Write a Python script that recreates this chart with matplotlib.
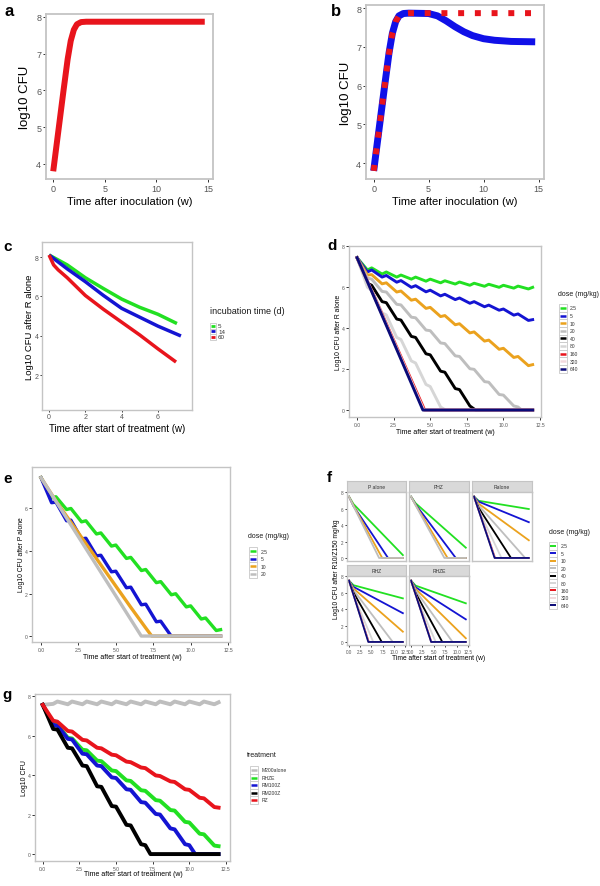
import matplotlib
matplotlib.use('Agg')
import matplotlib.pyplot as plt
from matplotlib.lines import Line2D
from matplotlib.patches import Rectangle
from matplotlib.ticker import FormatStrFormatter

plt.rcParams['font.family'] = ['Liberation Sans', 'DejaVu Sans']

# ---------------- data ----------------
# a / b : growth after inoculation
A_T = [0, 0.5, 1.0, 1.4, 1.7, 2.0, 2.3, 2.7, 3.2, 14.7]
A_V = [3.8, 4.9, 6.0, 6.85, 7.35, 7.65, 7.8, 7.86, 7.87, 7.87]
B_T = [0, 0.5, 1.0, 1.4, 1.7, 2.0, 2.3, 2.7, 3.2, 5.0, 5.8, 6.6, 7.4, 8.2, 9.0, 10.0, 11.0, 12.5, 14.7]
B_V = [3.8, 4.9, 6.0, 6.85, 7.35, 7.65, 7.8, 7.86, 7.87, 7.86, 7.8, 7.67, 7.52, 7.39, 7.29, 7.21, 7.17, 7.14, 7.13]

# c : R alone by incubation time
C_LABELS = ['5', '14', '60']
C_T5 = [0, 1, 2, 3, 4, 5, 6, 7.05]
C_V5 = [8.1, 7.6, 6.95, 6.4, 5.87, 5.45, 5.1, 4.63]
C_T14 = [0, 0.5, 1, 2, 3, 4, 5, 6, 7.27]
C_V14 = [8.1, 7.75, 7.4, 6.75, 6.05, 5.4, 4.95, 4.5, 4.0]
C_T60 = [0, 0.25, 0.5, 1, 2, 3, 4, 5, 6, 7.0]
C_V60 = [8.1, 7.6, 7.35, 6.95, 6.05, 5.35, 4.7, 4.05, 3.35, 2.68]

# weekly grid: start of week and end of the 5 dosing days
T_WK = [0, 0.71, 1, 1.71, 2, 2.71, 3, 3.71, 4, 4.71, 5, 5.71, 6, 6.71, 7, 7.71,
        8, 8.71, 9, 9.71, 10, 10.71, 11, 11.71, 12]

# d : R alone by dose
DOSES = ['2.5', '5', '10', '20', '40', '80', '160', '320', '640']
D_25 = [7.45, 6.85, 6.95, 6.65, 6.75, 6.5, 6.6, 6.4, 6.5, 6.3, 6.4, 6.22, 6.32,
        6.16, 6.26, 6.1, 6.2, 6.05, 6.15, 6.0, 6.1, 5.96, 6.06, 5.92, 6.0]
D_5 = [7.45, 6.75, 6.85, 6.5, 6.58, 6.25, 6.33, 6.0, 6.08, 5.78, 5.86, 5.58, 5.66,
       5.4, 5.48, 5.22, 5.3, 5.05, 5.13, 4.88, 4.94, 4.64, 4.7, 4.38, 4.42]
D_10 = [7.45, 6.6, 6.62, 6.17, 6.22, 5.77, 5.82, 5.37, 5.42, 4.97, 5.02, 4.57, 4.62,
        4.17, 4.22, 3.77, 3.82, 3.37, 3.42, 2.97, 3.02, 2.57, 2.62, 2.17, 2.22]
D_20_T = T_WK[:23] + [11.25, 12]
D_20 = [7.45, 6.45, 6.4, 5.8, 5.77, 5.17, 5.14, 4.54, 4.51, 3.91, 3.88, 3.28, 3.25,
        2.65, 2.62, 2.02, 1.99, 1.39, 1.36, 0.76, 0.73, 0.2, 0.15, 0, 0]
D_40_T = T_WK[:16] + [8.1, 12]
D_40 = [7.45, 6.2, 6.1, 5.3, 5.25, 4.45, 4.4, 3.6, 3.55, 2.75, 2.7, 1.9, 1.85,
        1.05, 1.0, 0.2, 0, 0]
D_80_T = T_WK[:12] + [6.05, 12]
D_80 = [7.45, 6.0, 5.85, 4.75, 4.65, 3.55, 3.45, 2.4, 2.3, 1.25, 1.15, 0.15, 0, 0]
D_160_T = [0, 4.62, 12]
D_320_T = [0, 4.56, 12]
D_640_T = [0, 4.5, 12]
D_LIN = [7.45, 0, 0]

# e : P alone by dose
E_DOSES = ['2.5', '5', '10', '20']
E_25 = [7.45, 6.5, 6.55, 5.95, 6.0, 5.37, 5.42, 4.8, 4.85, 4.23, 4.28, 3.65, 3.7,
        3.08, 3.13, 2.51, 2.56, 1.94, 1.99, 1.37, 1.42, 0.8, 0.85, 0.26, 0.3]
E_5_T = T_WK[:17] + [8.7, 12]
E_5 = [7.45, 6.27, 6.3, 5.42, 5.45, 4.57, 4.6, 3.77, 3.8, 3.02, 3.05, 2.27, 2.3,
       1.47, 1.5, 0.67, 0.7, 0, 0]
E_10_T = [0, 1, 2, 3, 4, 5, 6, 7, 7.4, 12]
E_10 = [7.45, 6.35, 5.35, 4.35, 3.35, 2.35, 1.35, 0.38, 0, 0]
E_20_T = [0, 6.7, 12]
E_20 = [7.45, 0, 0]

# f : facets, each line = start, value at week 1, week it reaches its end, end value
F_FACETS = ['P alone', 'PHZ', 'Ralone', 'RHZ', 'RHZE']
F_P_KNEE = [6.55, 6.3, 6.35, 6.3]
F_P_TEND = [12, 8.7, 7.4, 6.7]
F_P_VEND = [0.35, 0, 0, 0]
F_PHZ_KNEE = [6.65, 6.5, 6.45, 6.4]
F_PHZ_TEND = [12, 9.8, 8.0, 7.3]
F_PHZ_VEND = [1.25, 0, 0, 0]
F_R_KNEE = [6.95, 6.85, 6.6, 6.4, 6.1, 5.85, 5.84, 5.82, 5.8]
F_R_TEND = [12, 12, 12, 11.2, 8.1, 6.0, 4.6, 4.55, 4.5]
F_R_VEND = [5.95, 4.35, 2.15, 0, 0, 0, 0, 0, 0]
F_RHZ_KNEE = [6.9, 6.7, 6.5, 6.3, 6.0, 5.7, 5.76, 5.74, 5.72]
F_RHZ_TEND = [12, 12, 12, 9.75, 7.3, 5.4, 4.4, 4.35, 4.3]
F_RHZ_VEND = [5.3, 3.5, 1.25, 0, 0, 0, 0, 0, 0]
F_RHZE_KNEE = [6.85, 6.65, 6.45, 6.25, 5.95, 5.7, 5.8, 5.78, 5.76]
F_RHZE_TEND = [12, 12, 12, 9.1, 6.85, 5.4, 4.45, 4.42, 4.4]
F_RHZE_VEND = [4.7, 2.75, 0.45, 0, 0, 0, 0, 0, 0]

# g : regimens
G_LABELS = ['M200alone', 'RHZE', 'RM100Z', 'RM200Z', 'RZ']
G_M200 = [7.55, 7.6, 7.72, 7.58, 7.72, 7.58, 7.72, 7.58, 7.72, 7.58, 7.72, 7.58, 7.72,
          7.58, 7.72, 7.58, 7.72, 7.58, 7.72, 7.58, 7.72, 7.58, 7.72, 7.58, 7.68]
G_RHZE = [7.55, 6.58, 6.55, 5.88, 5.85, 5.28, 5.25, 4.73, 4.7, 4.23, 4.2, 3.73, 3.7,
          3.23, 3.2, 2.73, 2.7, 2.23, 2.2, 1.63, 1.6, 1.03, 1.0, 0.43, 0.4]
G_RM100Z_T = T_WK[:21] + [10.4, 12]
G_RM100Z = [7.55, 6.53, 6.5, 5.83, 5.8, 5.08, 5.05, 4.48, 4.45, 3.88, 3.85, 3.28, 3.25,
            2.63, 2.6, 2.03, 2.0, 1.3, 1.25, 0.5, 0.45, 0, 0]
G_RM200Z_T = T_WK[:15] + [7.35, 12]
G_RM200Z = [7.55, 6.33, 6.3, 5.38, 5.35, 4.48, 4.45, 3.43, 3.4, 2.43, 2.4, 1.48, 1.45,
            0.5, 0.45, 0, 0]
G_RZ = [7.55, 6.75, 6.7, 6.23, 6.2, 5.78, 5.75, 5.38, 5.35, 5.03, 5.0, 4.68, 4.65,
        4.38, 4.35, 3.98, 3.95, 3.68, 3.65, 3.28, 3.25, 2.85, 2.82, 2.38, 2.35]

GREEN = '#22E022'
BLUE = '#1414D2'
ORANGE = '#EBA21E'
GREY = '#BEBEBE'
LGREY = '#D6D6D6'
RED = '#E8141C'
PINK = '#F2D9DE'
NAVY = '#0A0A78'
DOSE_COLORS = [GREEN, BLUE, ORANGE, GREY, 'black', LGREY, RED, PINK, NAVY]

W, H = 600, 887
fig = plt.figure(figsize=(6, 8.87), dpi=100)


def px_axes(l, t, r, b):
    return fig.add_axes([l / W, 1 - b / H, (r - l) / W, (b - t) / H])


def ftxt(x, y, s, **kw):
    kw.setdefault('ha', 'center')
    kw.setdefault('va', 'center')
    fig.text(x / W, 1 - y / H, s, **kw)


def style(ax, fs, blw=1.0):
    for sp in ax.spines.values():
        sp.set_color('#C4C4C4')
        sp.set_linewidth(blw)
    ax.tick_params(length=2.2, width=0.7, color='#333333', labelsize=fs,
                   labelcolor='#555555', pad=1.2)


def legend(title, labels, colors, x_title, y_title, kx, tx, y0, dy, fs_t, fs, lw):
    ftxt(x_title, y_title, title, ha='left', fontsize=fs_t, color='#1A1A1A')
    kw = dy * 0.95
    for i, (lab, col) in enumerate(zip(labels, colors)):
        yy = y0 + i * dy
        fig.add_artist(Rectangle(((kx - kw / 2) / W, 1 - (yy + dy / 2) / H), kw / W, dy / H,
                                 transform=fig.transFigure, facecolor='white',
                                 edgecolor='#C8C8C8', lw=0.6))
        fig.add_artist(Line2D([(kx - kw * 0.42) / W, (kx + kw * 0.42) / W], [1 - yy / H] * 2,
                              transform=fig.transFigure, color=col, lw=lw,
                              solid_capstyle='butt'))
        ftxt(tx, yy, lab, ha='left', fontsize=fs, color='#333333')


# ---------------- a ----------------
ax = px_axes(46, 15, 213, 180)
ax.plot(A_T, A_V, color=RED, lw=4.3, solid_capstyle='butt')
ax.set_xlim(-0.7, 15.5)
ax.set_ylim(3.59, 8.08)
ax.set_xticks([0, 5, 10, 15])
ax.set_yticks([4, 5, 6, 7, 8])
style(ax, 6.5, 1.3)
ftxt(25, 97, 'log10 CFU', rotation=90, fontsize=9.5)
ftxt(130, 202, 'Time after inoculation (w)', fontsize=8)
ftxt(9, 11, 'a', fontsize=12, fontweight='bold')

# ---------------- b ----------------
ax = px_axes(366, 6, 544, 180)
ax.plot(B_T, B_V, color='#1010E8', lw=5.0, solid_capstyle='butt')
ax.plot(A_T, A_V, color=RED, lw=4.3, linestyle=(0, (1, 1.8)))
ax.set_xlim(-0.7, 15.5)
ax.set_ylim(3.59, 8.08)
ax.set_xticks([0, 5, 10, 15])
ax.set_yticks([4, 5, 6, 7, 8])
style(ax, 6.5, 1.3)
ftxt(346, 93, 'log10 CFU', rotation=90, fontsize=9.5)
ftxt(455, 202, 'Time after inoculation (w)', fontsize=8)
ftxt(336, 11, 'b', fontsize=12, fontweight='bold')

# ---------------- c ----------------
ax = px_axes(42, 243, 192, 411)
for t, v, col in [(C_T5, C_V5, GREEN), (C_T14, C_V14, BLUE), (C_T60, C_V60, RED)]:
    ax.plot(t, v, color=col, lw=2.5, solid_capstyle='butt')
ax.set_xlim(-0.39, 7.88)
ax.set_ylim(0.25, 8.76)
ax.set_xticks([0, 2, 4, 6])
ax.set_yticks([2, 4, 6, 8])
style(ax, 5)
ax.tick_params(length=1.6, pad=0.8)
ftxt(29, 327, 'Log10 CFU after R alone', rotation=90, fontsize=6.8)
ftxt(117, 429, 'Time after start of treatment (w)', fontsize=7)
ftxt(8, 247, 'c', fontsize=11, fontweight='bold')
legend('incubation time (d)', C_LABELS, [GREEN, BLUE, RED], 210, 312, 213, 218, 327, 5.4,
       6.5, 4.5, 2.0)

# ---------------- d ----------------
ax = px_axes(349, 247, 541, 418)
d_series = [(T_WK, D_25), (T_WK, D_5), (T_WK, D_10), (D_20_T, D_20), (D_40_T, D_40),
            (D_80_T, D_80), (D_160_T, D_LIN), (D_320_T, D_LIN), (D_640_T, D_LIN)]
for (t, v), col in zip(d_series, DOSE_COLORS):
    ax.plot(t, v, color=col, lw=2.1)
ax.set_xlim(-0.55, 12.57)
ax.set_ylim(-0.34, 8.02)
ax.set_xticks([0, 2.5, 5, 7.5, 10, 12.5])
ax.xaxis.set_major_formatter(FormatStrFormatter('%.1f'))
ax.set_yticks([0, 2, 4, 6, 8])
style(ax, 3.6)
ftxt(338, 332, 'Log10 CFU after R alone', rotation=90, fontsize=4.9)
ftxt(445, 432, 'Time after start of treatment (w)', fontsize=5)
ftxt(332, 246, 'd', fontsize=11, fontweight='bold')
legend('dose (mg/kg)', DOSES, DOSE_COLORS, 558, 295, 563, 570, 309, 7.6, 5, 3.6, 1.8)

# ---------------- e ----------------
ax = px_axes(32, 468, 230, 643)
e_series = [(T_WK, E_25), (E_5_T, E_5), (E_10_T, E_10), (E_20_T, E_20)]
for (t, v), col in zip(e_series, [GREEN, BLUE, ORANGE, GREY]):
    ax.plot(t, v, color=col, lw=2.4)
ax.set_xlim(-0.6, 12.63)
ax.set_ylim(-0.28, 7.95)
ax.set_xticks([0, 2.5, 5, 7.5, 10, 12.5])
ax.xaxis.set_major_formatter(FormatStrFormatter('%.1f'))
ax.set_yticks([0, 2, 4, 6])
style(ax, 3.6)
ftxt(22, 555, 'Log10 CFU after P alone', rotation=90, fontsize=4.9)
ftxt(132, 658, 'Time after start of treatment (w)', fontsize=5)
ftxt(8, 479, 'e', fontsize=11, fontweight='bold')
legend('dose (mg/kg)', E_DOSES, [GREEN, BLUE, ORANGE, GREY], 248, 537, 253, 261, 552, 7.6,
       5, 3.6, 1.8)

# ---------------- f ----------------
f_knee = [F_P_KNEE, F_PHZ_KNEE, F_R_KNEE, F_RHZ_KNEE, F_RHZE_KNEE]
f_tend = [F_P_TEND, F_PHZ_TEND, F_R_TEND, F_RHZ_TEND, F_RHZE_TEND]
f_vend = [F_P_VEND, F_PHZ_VEND, F_R_VEND, F_RHZ_VEND, F_RHZE_VEND]
cols = [(347, 406), (409, 469), (472, 532)]
rows = [(482, 493, 562), (566, 577, 646)]
for i, name in enumerate(F_FACETS):
    r, c = divmod(i, 3)
    l, rr = cols[c]
    st, pt, pb = rows[r]
    sax = px_axes(l, st, rr, pt)
    sax.set_facecolor('#D9D9D9')
    sax.set_xticks([])
    sax.set_yticks([])
    for sp in sax.spines.values():
        sp.set_color('#C4C4C4')
    sax.text(0.5, 0.5, name, transform=sax.transAxes, ha='center', va='center',
             fontsize=3.6, color='#333333')
    ax = px_axes(l, pt, rr, pb)
    for k, col in enumerate(DOSE_COLORS[:len(f_knee[i])]):
        te, ve = f_tend[i][k], f_vend[i][k]
        if te < 12:
            ax.plot([0, 1, te, 12], [7.45, f_knee[i][k], ve, ve], color=col, lw=1.3)
        else:
            ax.plot([0, 1, 12], [7.45, f_knee[i][k], ve], color=col, lw=1.3)
    ax.set_xlim(-0.45, 12.7)
    ax.set_ylim(-0.37, 8.02)
    ax.set_xticks([0, 2.5, 5, 7.5, 10, 12.5])
    ax.xaxis.set_major_formatter(FormatStrFormatter('%.1f'))
    ax.set_yticks([0, 2, 4, 6, 8])
    style(ax, 3.3)
    ax.tick_params(length=1.6)
    if c > 0:
        ax.tick_params(left=False, labelleft=False)
    if r == 0:
        ax.tick_params(bottom=False, labelbottom=False)
ftxt(336, 569, 'Log10 CFU after R10/Z150 mg/kg', rotation=90, fontsize=4.8)
ftxt(439, 659, 'Time after start of treatment (w)', fontsize=4.8)
ftxt(329, 478, 'f', fontsize=11, fontweight='bold')
legend('dose (mg/kg)', DOSES, DOSE_COLORS, 549, 533, 553, 561, 547, 7.4, 5, 3.6, 1.4)

# ---------------- g ----------------
ax = px_axes(35, 695, 230, 862)
g_series = [(T_WK, G_M200), (T_WK, G_RHZE), (G_RM100Z_T, G_RM100Z),
            (G_RM200Z_T, G_RM200Z), (T_WK, G_RZ)]
g_colors = [GREY, GREEN, BLUE, 'black', RED]
for (t, v), col in zip(g_series, g_colors):
    ax.plot(t, v, color=col, lw=2.8)
ax.set_xlim(-0.53, 12.78)
ax.set_ylim(-0.35, 8.1)
ax.set_xticks([0, 2.5, 5, 7.5, 10, 12.5])
ax.xaxis.set_major_formatter(FormatStrFormatter('%.1f'))
ax.set_yticks([0, 2, 4, 6, 8])
style(ax, 3.6)
ftxt(24, 778, 'Log10 CFU', rotation=90, fontsize=5)
ftxt(133, 875, 'Time after start of treatment (w)', fontsize=5)
ftxt(7, 695, 'g', fontsize=11, fontweight='bold')
legend('treatment', G_LABELS, g_colors, 247, 756, 254, 262, 771, 7.5, 5, 3.6, 1.8)

fig.savefig('out.png', dpi=100)
